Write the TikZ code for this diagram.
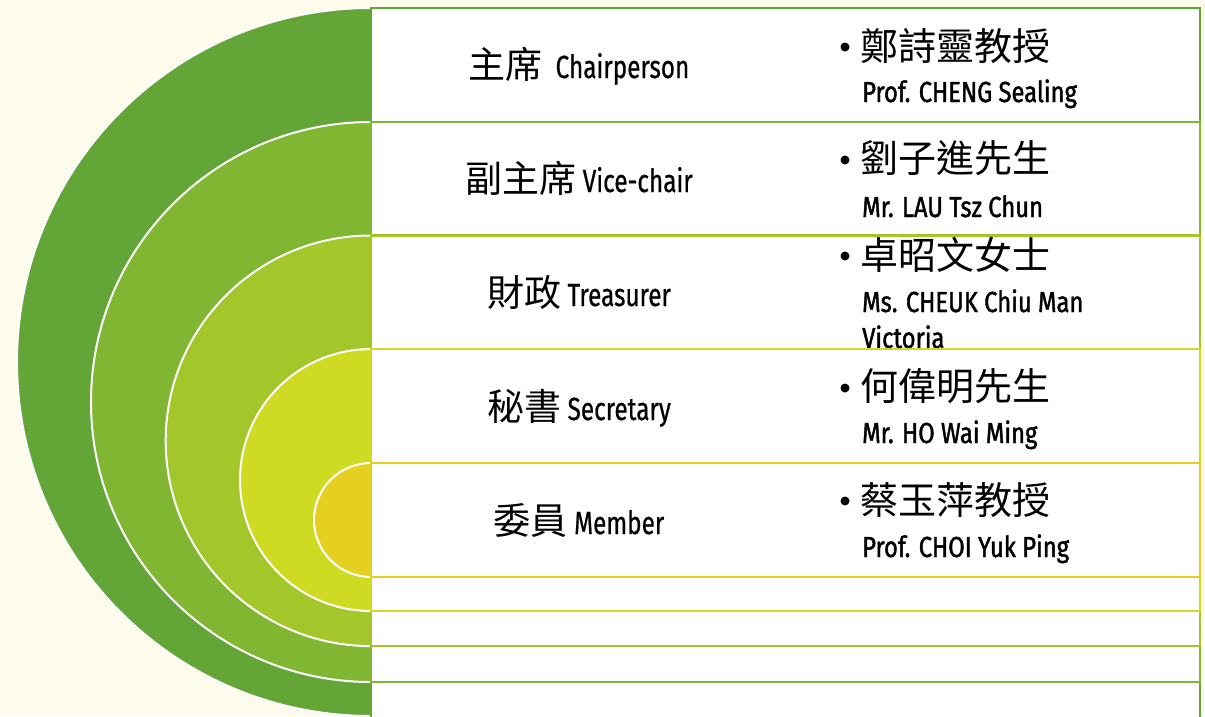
\documentclass[tikz,border=0pt]{standalone}
\usepackage{fontspec}
\setmainfont{Fira Sans}[FakeStretch=0.76,FakeBold=0.6]
\newfontfamily\namefont{Fira Sans}[FakeStretch=0.82,FakeBold=1.4]
\newfontfamily\cjk{Noto Sans CJK TC}
\newcommand\cjklab[1]{{\cjk\fontsize{37}{40}\selectfont #1}}
\definecolor{bgc}{HTML}{FCFBEC}
\definecolor{ca}{HTML}{63A537}
\definecolor{cb}{HTML}{80B632}
\definecolor{cc}{HTML}{A3C62A}
\definecolor{cd}{HTML}{CFDB22}
\definecolor{ce}{HTML}{E5D022}
\begin{document}
\begin{tikzpicture}[x=1pt,y=1pt,
  discedge/.style={draw=white,line width=2pt},
  rowbox/.style={fill=white,line width=2.6pt},
  role/.style={anchor=base,inner sep=0pt,font=\fontsize{32}{38}\selectfont},
  cn/.style={anchor=base west,inner sep=0pt,font=\cjk\fontsize{38}{44}\selectfont},
  en/.style={anchor=base west,inner sep=0pt,font=\namefont\fontsize{29}{35}\selectfont},
  dot/.style={circle,fill=black,inner sep=0pt,minimum size=9pt}]
\fill[bgc] (0,0) rectangle (1205,-716);
\useasboundingbox (0,0) rectangle (1205,-716);
% level 1
\fill[ca] (371,-8) arc[start angle=90,end angle=270,radius=354pt] -- cycle;
\draw[discedge] (371,-8) arc[start angle=90,end angle=270,radius=354pt];
\draw[rowbox,draw=ca] (371,-8) rectangle (1200,-719);
\node[role] (r1) at (579,-78) {\cjklab{主席}\ \ Chairperson};
\node[dot] (d1) at (845,-47) {};
\node[cn] (c1) at (860,-60) {鄭詩靈教授};
\node[en] (n1) at (862,-102) {Prof. CHENG Sealing};
% level 2
\fill[cb] (371,-122) arc[start angle=90,end angle=270,radius=280pt] -- cycle;
\draw[discedge] (371,-122) arc[start angle=90,end angle=270,radius=280pt];
\draw[rowbox,draw=cb] (371,-122) rectangle (1200,-682);
\node[role] (r2) at (579,-192) {\cjklab{副主席}\ Vice-chair};
\node[dot] (d2) at (845,-160) {};
\node[cn] (c2) at (860,-172) {劉子進先生};
\node[en] (n2) at (862,-217) {Mr. LAU Tsz Chun};
% level 3
\fill[cc] (371,-235.5) arc[start angle=90,end angle=270,radius=205.3pt] -- cycle;
\draw[discedge] (371,-235.5) arc[start angle=90,end angle=270,radius=205.3pt];
\draw[rowbox,draw=cc] (371,-235.5) rectangle (1200,-646);
\node[role] (r3) at (579,-306) {\cjklab{財政}\ Treasurer};
\node[dot] (d3) at (845,-256) {};
\node[cn] (c3) at (860,-269) {卓昭文女士};
\node[en] (n3) at (862,-312) {Ms. CHEUK Chiu Man};
\node[en] (v3) at (862,-348) {Victoria};
% level 4
\fill[cd] (371,-349) arc[start angle=90,end angle=270,radius=131pt] -- cycle;
\draw[discedge] (371,-349) arc[start angle=90,end angle=270,radius=131pt];
\draw[rowbox,draw=cd] (371,-349) rectangle (1200,-611);
\node[role] (r4) at (579,-420) {\cjklab{秘書}\ Secretary};
\node[dot] (d4) at (845,-388) {};
\node[cn] (c4) at (860,-400) {何偉明先生};
\node[en] (n4) at (862,-443) {Mr. HO Wai Ming};
% level 5
\fill[ce] (371,-463) arc[start angle=90,end angle=270,radius=57pt] -- cycle;
\draw[discedge] (371,-463) arc[start angle=90,end angle=270,radius=57pt];
\draw[rowbox,draw=ce] (371,-463) rectangle (1200,-577);
\node[role] (r5) at (579,-534) {\cjklab{委員}\ Member};
\node[dot] (d5) at (845,-501) {};
\node[cn] (c5) at (860,-514) {蔡玉萍教授};
\node[en] (n5) at (862,-557) {Prof. CHOI Yuk Ping};
\end{tikzpicture}
\end{document}
